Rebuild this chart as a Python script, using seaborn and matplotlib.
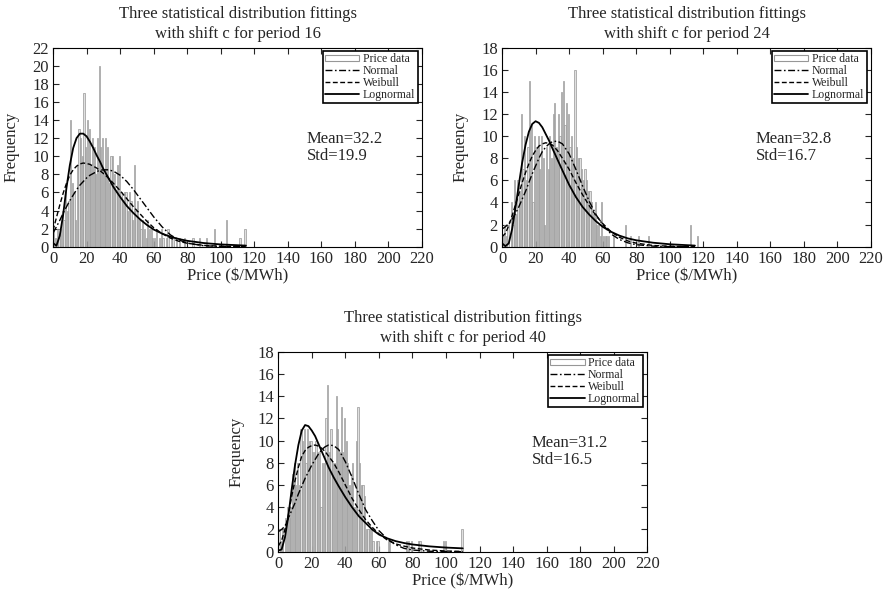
"""
Price histograms with Normal / Weibull / Lognormal fits (shift c),
periods 16, 24 and 40.
"""

import numpy as np
import pandas as pd
import matplotlib
matplotlib.use("Agg")
import matplotlib.pyplot as plt
from matplotlib.lines import Line2D
from matplotlib.patches import Patch
import seaborn as sns


# ─────────────────────────────────────────────────────────────────────────────
# DATA  (bins are 1 $/MWh wide starting at 0)
# ─────────────────────────────────────────────────────────────────────────────
PERIODS = [16, 24, 40]
MEANS   = ["32.2", "32.8", "31.2"]
STDS    = ["19.9", "16.7", "16.5"]
Y_MAX   = [22, 18, 18]

COUNTS_16 = [
    2, 1, 2, 1, 2, 4, 3, 6, 4, 5,
    14, 7, 6, 3, 9, 13, 12, 10, 17, 11,
    14, 13, 9, 12, 11, 8, 12, 20, 11, 12,
    8, 12, 11, 7, 10, 10, 8, 6, 9, 10,
    6, 5, 6, 6, 4, 6, 5, 3, 9, 4,
    5, 3, 2, 3, 2, 1, 3, 2, 2, 1,
    1, 2, 0, 1, 2, 1, 0, 1, 2, 0,
    1, 1, 0, 1, 0, 1, 0, 0, 1, 0,
    0, 0, 0, 1, 0, 0, 0, 1, 0, 0,
    0, 1, 0, 0, 0, 0, 2, 0, 0, 0,
    0, 0, 0, 3, 0, 0, 0, 0, 0, 0,
    0, 1, 0, 0, 2,
]
COUNTS_24 = [
    1, 2, 1, 2, 0, 4, 2, 6, 3, 6,
    5, 12, 7, 10, 6, 9, 15, 11, 4, 10,
    9, 10, 7, 10, 8, 2, 9, 7, 10, 8,
    12, 13, 9, 12, 10, 14, 15, 11, 13, 12,
    9, 10, 8, 16, 9, 8, 8, 7, 6, 7,
    6, 5, 5, 4, 3, 4, 2, 2, 1, 4,
    1, 1, 1, 1, 0, 0, 1, 0, 0, 0,
    0, 0, 0, 2, 0, 0, 1, 0, 0, 0,
    0, 1, 0, 0, 0, 0, 0, 1, 0, 0,
    0, 0, 0, 0, 0, 0, 0, 0, 0, 0,
    0, 0, 0, 0, 0, 0, 0, 0, 0, 0,
    0, 0, 2, 0, 0, 0, 1,
]
COUNTS_40 = [
    2, 1, 2, 0, 3, 4, 3, 4, 7, 8,
    6, 8, 6, 11, 10, 11, 8, 11, 10, 10,
    9, 9, 10, 9, 9, 4, 8, 8, 12, 15,
    9, 11, 8, 8, 14, 11, 9, 13, 9, 12,
    10, 8, 6, 7, 8, 4, 10, 13, 8, 6,
    6, 5, 2, 2, 2, 2, 1, 0, 1, 1,
    0, 0, 0, 0, 0, 1, 1, 0, 0, 0,
    0, 0, 0, 0, 0, 0, 1, 1, 0, 1,
    0, 0, 0, 1, 1, 0, 0, 0, 0, 0,
    0, 0, 0, 0, 0, 0, 0, 0, 1, 1,
    0, 0, 0, 0, 0, 0, 0, 0, 0, 2,
    0,
]

# fitted curves, sampled at these prices
CURVE_X_16 = [0, 2, 4, 6, 8, 10, 12, 14, 16, 18, 20, 22, 24, 26, 28, 30, 33, 36,
              40, 44, 48, 52, 56, 60, 65, 70, 75, 80, 90, 100, 115]
CURVE_X_24 = CURVE_X_16
CURVE_X_40 = [0, 2, 4, 6, 8, 10, 12, 14, 16, 18, 20, 22, 24, 26, 28, 30, 33, 36,
              40, 44, 48, 52, 56, 60, 65, 70, 75, 80, 90, 100, 110]

NORMAL_16 = [1.5, 2.2, 2.9, 3.7, 4.4, 5.1, 5.7, 6.3, 6.8, 7.2, 7.6, 7.9, 8.1, 8.3,
             8.45, 8.5, 8.5, 8.35, 7.9, 7.2, 6.3, 5.3, 4.3, 3.3, 2.2, 1.3, 0.75,
             0.4, 0.1, 0.03, 0.0]
WEIBULL_16 = [1.8, 3.2, 4.6, 5.9, 7.0, 7.9, 8.5, 8.9, 9.15, 9.25, 9.2, 9.1, 8.9,
              8.7, 8.4, 8.1, 7.6, 7.0, 6.2, 5.3, 4.4, 3.6, 2.8, 2.1, 1.45, 0.95,
              0.6, 0.38, 0.14, 0.05, 0.01]
LOGNORM_16 = [0.4, 0.1, 1.2, 3.5, 6.5, 9.0, 10.9, 12.0, 12.5, 12.5, 12.2, 11.6,
              10.9, 10.1, 9.4, 8.6, 7.6, 6.6, 5.5, 4.5, 3.7, 3.0, 2.4, 1.9, 1.45,
              1.1, 0.85, 0.65, 0.4, 0.25, 0.12]

NORMAL_24 = [1.6, 1.8, 2.1, 2.5, 3.0, 3.6, 4.3, 5.0, 5.8, 6.6, 7.3, 8.0, 8.6, 9.0,
             9.3, 9.5, 9.55, 9.3, 8.4, 7.0, 5.5, 4.1, 2.9, 2.0, 1.15, 0.65, 0.35,
             0.18, 0.05, 0.01, 0.0]
WEIBULL_24 = [0.9, 1.2, 1.9, 2.8, 3.8, 4.8, 5.8, 6.7, 7.5, 8.2, 8.7, 9.1, 9.3,
              9.4, 9.35, 9.2, 8.7, 8.0, 7.0, 5.8, 4.7, 3.7, 2.8, 2.1, 1.35, 0.85,
              0.52, 0.32, 0.11, 0.04, 0.01]
LOGNORM_24 = [0.3, 0.05, 0.3, 1.6, 3.5, 5.6, 7.6, 9.2, 10.4, 11.1, 11.35, 11.2,
              10.8, 10.2, 9.6, 8.9, 7.9, 6.9, 5.6, 4.5, 3.6, 2.9, 2.3, 1.8, 1.35,
              1.0, 0.75, 0.58, 0.36, 0.22, 0.1]

NORMAL_40 = [1.8, 2.0, 2.3, 3.0, 3.7, 4.4, 5.2, 5.9, 6.6, 7.2, 7.8, 8.3, 8.8, 9.2,
             9.45, 9.6, 9.55, 9.2, 8.1, 6.7, 5.2, 3.8, 2.8, 1.9, 1.15, 0.62, 0.3,
             0.15, 0.04, 0.01, 0.0]
WEIBULL_40 = [0.5, 1.0, 2.0, 3.3, 5.0, 6.4, 7.6, 8.6, 9.1, 9.4, 9.55, 9.6, 9.5,
              9.3, 9.0, 8.6, 8.0, 7.2, 6.0, 4.8, 3.8, 2.9, 2.2, 1.6, 1.05, 0.7,
              0.5, 0.33, 0.15, 0.06, 0.02]
LOGNORM_40 = [0.1, 0.2, 1.3, 3.2, 5.6, 7.8, 9.6, 10.9, 11.4, 11.3, 10.9, 10.4,
              9.7, 9.0, 8.3, 7.6, 6.7, 5.9, 4.9, 4.0, 3.2, 2.6, 2.0, 1.55, 1.2,
              0.95, 0.78, 0.65, 0.48, 0.37, 0.3]

X_TICKS = list(range(0, 221, 20))


# ─────────────────────────────────────────────────────────────────────────────
# STYLE
# ─────────────────────────────────────────────────────────────────────────────
sns.set_style("ticks")
plt.rcParams["font.family"] = ["Liberation Serif", "DejaVu Serif"]
plt.rcParams["axes.linewidth"] = 0.8

BAR_FACE = "#e0e0e0"
BAR_EDGE = "#979797"
LS_NORMAL  = (0, (5, 1.8, 1.2, 1.8))
LS_WEIBULL = (0, (3.5, 1.8))
LS_LOGNORM = "-"


# ─────────────────────────────────────────────────────────────────────────────
# PLOTTING
# ─────────────────────────────────────────────────────────────────────────────
def draw_panel(ax, counts, curve_x, normal, weibull, lognorm, period, mean, std, ymax):
    n = len(counts)
    hist_df = pd.DataFrame({"price": np.arange(n) + 0.5, "count": counts})
    sns.histplot(data=hist_df, x="price", weights="count", bins=list(range(n + 1)),
                 shrink=0.72, color=BAR_FACE, edgecolor=BAR_EDGE, linewidth=0.5,
                 alpha=1, ax=ax)

    sns.lineplot(x=curve_x, y=normal,  ax=ax, color="black", lw=1.0, linestyle=LS_NORMAL)
    sns.lineplot(x=curve_x, y=weibull, ax=ax, color="black", lw=1.0, linestyle=LS_WEIBULL)
    sns.lineplot(x=curve_x, y=lognorm, ax=ax, color="black", lw=1.3, linestyle=LS_LOGNORM)

    ax.set_xlim(0, 220)
    ax.set_ylim(0, ymax)
    ax.set_xticks(X_TICKS)
    ax.set_yticks(range(0, ymax + 1, 2))
    ax.tick_params(direction="in", top=True, right=True, length=4, width=0.8,
                   labelsize=12, pad=3)
    for sp in ax.spines.values():
        sp.set_visible(True)
        sp.set_color("black")

    ax.set_xlabel(r"Price (\$/MWh)", fontsize=12, labelpad=1)
    ax.set_ylabel("Frequency", fontsize=12, labelpad=9)
    ax.set_title(f"Three statistical distribution fittings\nwith shift c for period {period}",
                 fontsize=12, pad=7, linespacing=1.35)

    ax.text(0.6875, 0.5, f"Mean={mean}\nStd={std}", transform=ax.transAxes,
            fontsize=12, ha="left", va="center", linespacing=1.05)

    handles = [
        Patch(facecolor="white", edgecolor=BAR_EDGE, linewidth=0.8),
        Line2D([], [], color="black", lw=1.0, linestyle=LS_NORMAL),
        Line2D([], [], color="black", lw=1.0, linestyle=LS_WEIBULL),
        Line2D([], [], color="black", lw=1.3, linestyle=LS_LOGNORM),
    ]
    leg = ax.legend(handles, ["Price data", "Normal", "Weibull", "Lognormal"],
                    loc="upper right", bbox_to_anchor=(0.988, 0.985), borderaxespad=0,
                    fontsize=8.5, frameon=True, fancybox=False, framealpha=1,
                    edgecolor="black", labelspacing=0.0, handlelength=2.9,
                    handleheight=0.5, handletextpad=0.3, borderpad=0.2)
    leg.get_frame().set_linewidth(1.2)


fig = plt.figure(figsize=(8.93, 5.92), dpi=100)
ax1 = fig.add_axes([0.0594, 0.5833, 0.4132, 0.3361])
ax2 = fig.add_axes([0.5622, 0.5833, 0.4132, 0.3361])
ax3 = fig.add_axes([0.3116, 0.0681, 0.4132, 0.3378])

draw_panel(ax1, COUNTS_16, CURVE_X_16, NORMAL_16, WEIBULL_16, LOGNORM_16,
           PERIODS[0], MEANS[0], STDS[0], Y_MAX[0])
draw_panel(ax2, COUNTS_24, CURVE_X_24, NORMAL_24, WEIBULL_24, LOGNORM_24,
           PERIODS[1], MEANS[1], STDS[1], Y_MAX[1])
draw_panel(ax3, COUNTS_40, CURVE_X_40, NORMAL_40, WEIBULL_40, LOGNORM_40,
           PERIODS[2], MEANS[2], STDS[2], Y_MAX[2])

fig.savefig("out.png", dpi=100)
plt.close(fig)
